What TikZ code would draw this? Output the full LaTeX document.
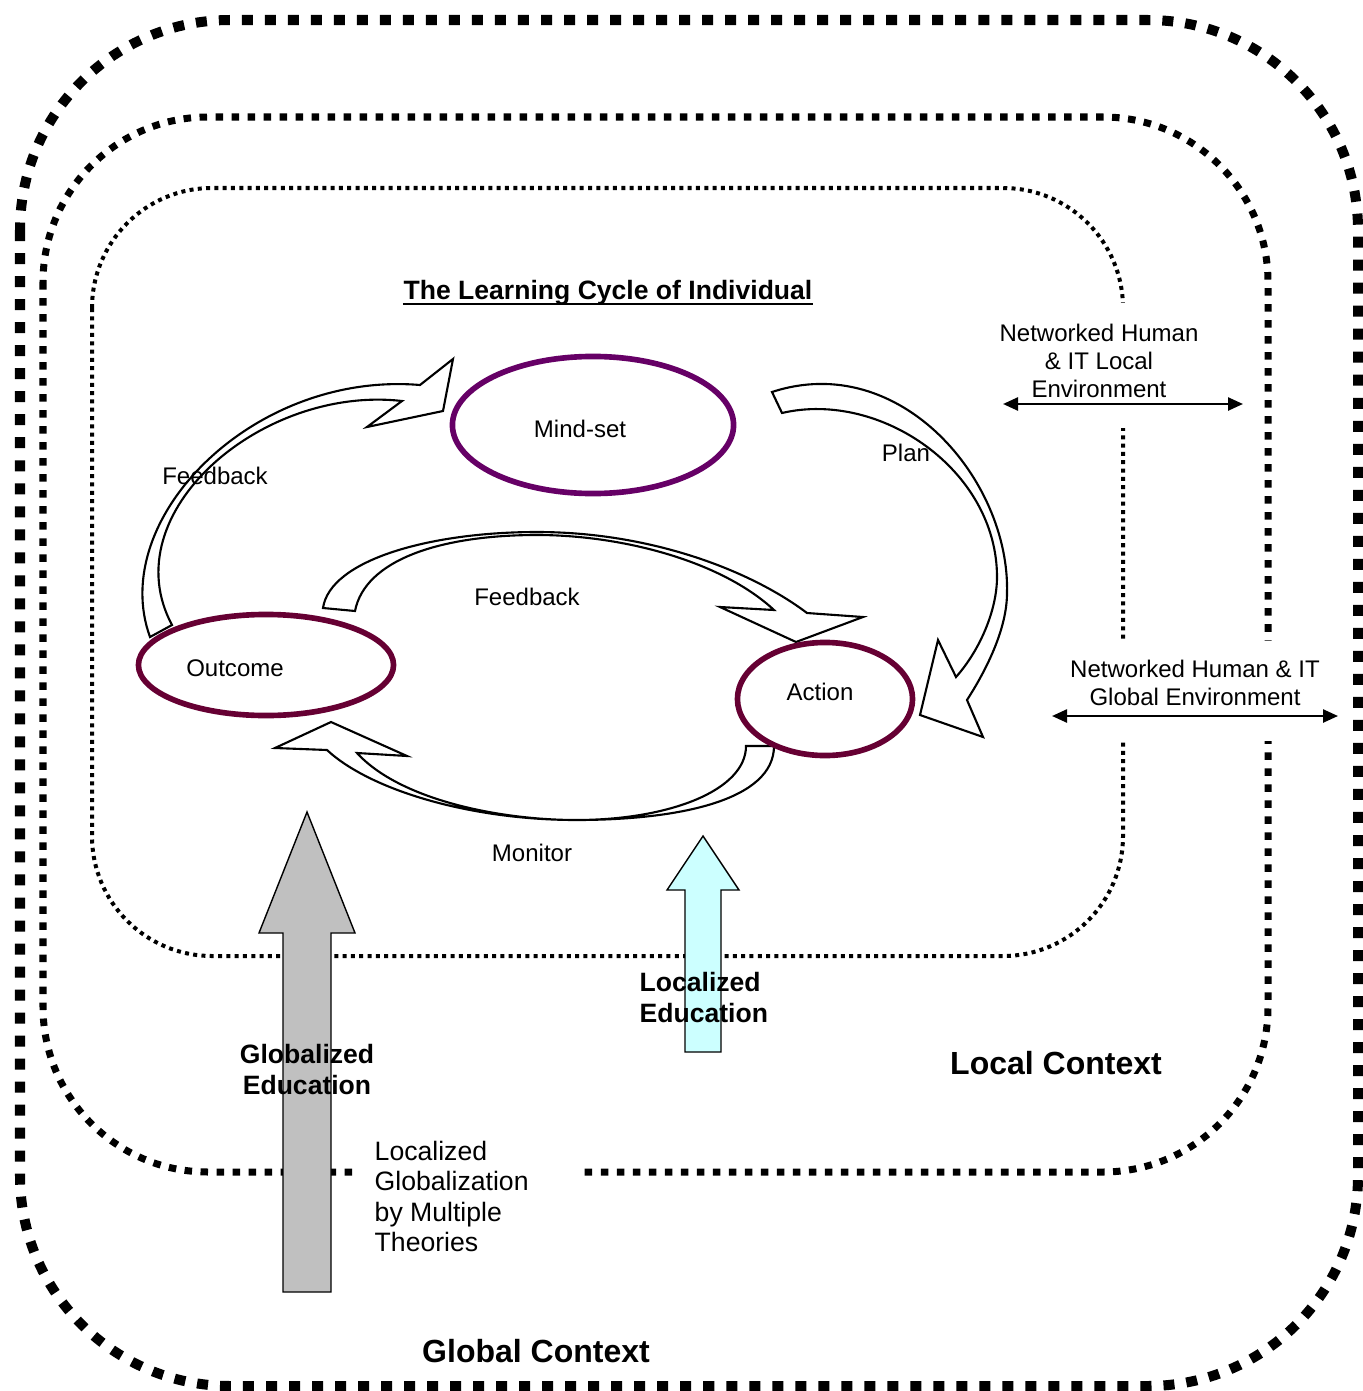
\documentclass[tikz,border=0pt]{standalone}
\usepackage{fontspec}
\setmainfont{Liberation Sans}
\usepackage{tikz}
\usetikzlibrary{arrows.meta, calc, shapes.geometric, positioning}

\definecolor{wine}{HTML}{660033}
\definecolor{plum}{HTML}{660066}
\definecolor{aqua}{HTML}{CCFFFF}
\definecolor{silver}{HTML}{C0C0C0}

\begin{document}
\begin{tikzpicture}[x=0.01cm, y=-0.01cm,
    lbl/.style={font=\fontsize{6.83}{7.97}\selectfont, inner sep=0pt},
    biglbl/.style={font=\fontsize{7.57}{8.68}\selectfont, inner sep=0pt},
    boldlbl/.style={font=\fontsize{7.55}{8.82}\selectfont\bfseries, inner sep=0pt},
    ctx/.style={font=\fontsize{9.1}{10.5}\selectfont\bfseries, inner sep=0pt},
    stage/.style={ellipse, draw=wine, line width=1.6pt, fill=white, inner sep=0pt},
    curvedarrow/.style={draw, line width=0.6pt, fill=white, line join=miter},
    glob/.style={line width=0.1cm, dash pattern=on 0.11cm off 0.12cm},
    loc/.style={line width=0.07cm, dash pattern=on 0.075cm off 0.085cm},
    indiv/.style={line width=0.04cm, dash pattern=on 0.04cm off 0.043cm},
    envarrow/.style={line width=0.7pt, {Triangle[length=0.15cm,width=0.13cm]}-{Triangle[length=0.15cm,width=0.13cm]}},
    edu/.style={draw, line width=0.4pt}]
    \useasboundingbox (0,0) rectangle (1362,1391);

    % Contexts
    \draw[glob, rounded corners=2.1cm] (20,20) rectangle (1358,1386);
    \draw[loc, rounded corners=1.65cm] (43,117) rectangle (1268,1172);
    \draw[indiv, rounded corners=1.2cm] (92,188) rectangle (1123,956);

    % text boxes cut the lines
    \fill[white] (1000,303) rectangle (1245,428);
    \fill[white] (1050,641) rectangle (1340,741);
    \fill[white] (354,1130) rectangle (578,1262);

    % Title
    \node[boldlbl, anchor=base] (title) at (608,299) {The Learning Cycle of Individual};
    \draw[line width=0.6pt] ([yshift=-1.3pt]title.base west) -- ([yshift=-1.3pt]title.base east);

    % Feedback (outcome to mind-set)
    \draw[curvedarrow] (150,637) .. controls (107,519) and (253,371) .. (420,385)
        -- (453,359) -- (443,411) -- (367,427) -- (402,401)
        .. controls (262,385) and (112,513) .. (172,625) -- cycle;

    % Plan
    \draw[curvedarrow] (772,392) .. controls (900,350) and (1010,480) .. (1007,593)
        .. controls (1007,630) and (985,672) .. (967,700)
        -- (983,737) -- (920,715) -- (938,640) -- (956,677)
        .. controls (980,650) and (997,610) .. (997,577)
        .. controls (997,470) and (880,390) .. (782,413) -- cycle;

    % Feedback (outcome to action)
    \draw[curvedarrow] (323,608) .. controls (330,560) and (430,532) .. (537,532)
        .. controls (650,532) and (750,570) .. (807,613)
        -- (863,617) -- (796,642) -- (720,607) -- (774,610)
        .. controls (720,560) and (620,535) .. (537,535)
        .. controls (440,535) and (365,560) .. (355,611) -- cycle;

    % Monitor
    \draw[curvedarrow] (327,750) -- (275,748) -- (331,722) -- (407,756) -- (357,753)
        .. controls (400,800) and (500,820) .. (576,820)
        .. controls (670,820) and (746,790) .. (746,746)
        -- (774,746)
        .. controls (774,800) and (680,820) .. (576,820)
        .. controls (470,820) and (370,790) .. (327,750) -- cycle;

    % Stages
    \node[stage, draw=plum, minimum width=2.81cm, minimum height=1.37cm] (mind) at (593,425) {};
    \node[stage, minimum width=2.55cm, minimum height=1.01cm] (outcome) at (266,665) {};
    \node[stage, minimum width=1.75cm, minimum height=1.13cm] (action) at (825,699) {};

    \node[lbl, anchor=base] (mindtxt) at (580,437) {Mind-set};
    \node[lbl, anchor=base] (outcometxt) at (235,676) {Outcome};
    \node[lbl, anchor=base] (actiontxt) at (820,700) {Action};
    \node[lbl, anchor=base] (plan) at (906,461) {Plan};
    \node[lbl, anchor=base] (feedback1) at (215,484) {Feedback};
    \node[lbl, anchor=base] (feedback2) at (527,605) {Feedback};
    \node[lbl, anchor=base] (monitor) at (532,861) {Monitor};

    % Environments
    \node[lbl, align=center, anchor=north] (localenv) at (1099,323) {Networked Human\\\& IT Local\\Environment};
    \coordinate (locW) at (1003,404);
    \coordinate (locE) at (1243,404);
    \draw[envarrow] (locW) -- (locE);

    \node[lbl, align=center, anchor=north] (globalenv) at (1195,659) {Networked Human \& IT\\Global Environment};
    \coordinate (globW) at (1052,716);
    \coordinate (globE) at (1338,716);
    \draw[envarrow] (globW) -- (globE);

    % Education
    \draw[edu, fill=silver] (283,1292) -- (283,933) -- (259,933) -- (307,812) -- (355,933) -- (331,933) -- (331,1292) -- cycle;
    \draw[edu, fill=aqua] (685,1052) -- (685,890) -- (667,890) -- (703,836) -- (739,890) -- (721,890) -- (721,1052) -- cycle;

    \node[boldlbl, align=left, anchor=north west] (loced) at (639,972) {Localized\\Education};
    \node[boldlbl, align=center, anchor=north] (globed) at (307,1044) {Globalized\\Education};
    \node[biglbl, align=left, anchor=north west] (theories) at (374,1140) {Localized\\Globalization\\by Multiple\\Theories};

    \node[ctx, anchor=base] (localctx) at (1056,1074) {Local Context};
    \node[ctx, anchor=base] (globalctx) at (536,1362) {Global Context};
\end{tikzpicture}
\end{document}
